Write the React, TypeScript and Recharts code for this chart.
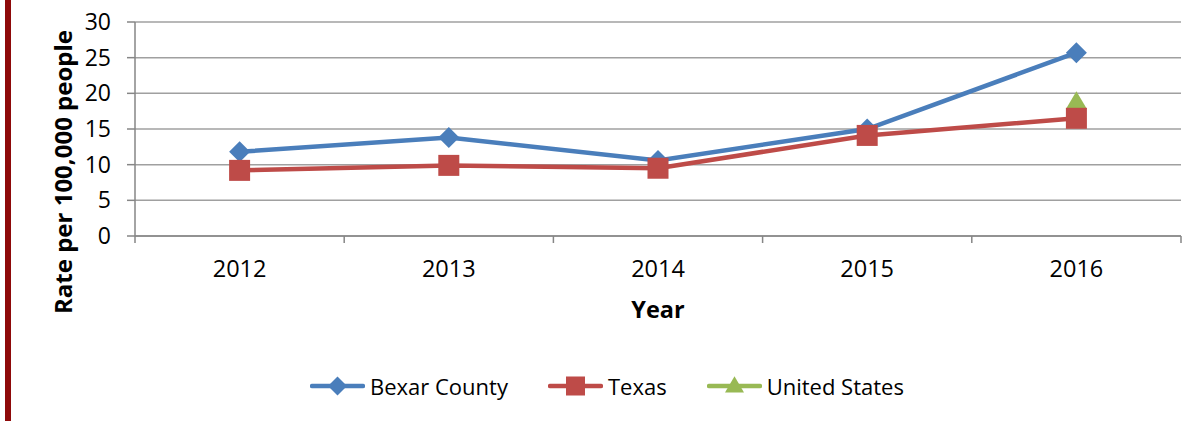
import React from 'react'
import { LineChart, Line, XAxis, YAxis, CartesianGrid } from 'recharts'

const years = ['2012', '2013', '2014', '2015', '2016']
const bexarCounty = [11.8, 13.8, 10.6, 15.0, 25.7]
const texas = [9.2, 9.9, 9.5, 14.1, 16.5]
const unitedStates = [null, null, null, null, 18.8]
const yTicks = [0, 5, 10, 15, 20, 25, 30]

const data = years.map((year, i) => ({
  year,
  bexar: bexarCounty[i],
  texas: texas[i],
  us: unitedStates[i],
}))

const FONT = '"Open Sans", sans-serif'
const BLUE = '#4A7EBB'
const RED = '#BE4B48'
const GREEN = '#98B954'
const AXIS = '#868686'
const GRID = '#A0A0A0'

const W = 1194
const H = 421
const M = { top: 22, right: 13, left: 0, bottom: 95 }
const Y_AXIS_W = 135
const BAND = (W - M.right - M.left - Y_AXIS_W) / years.length

function Diamond({ cx, cy, r = 10, color }: any) {
  if (cx == null || cy == null) return null
  return <path d={`M${cx},${cy - r}L${cx + r},${cy}L${cx},${cy + r}L${cx - r},${cy}Z`} fill={color} />
}

function Square({ cx, cy, r = 10, color }: any) {
  if (cx == null || cy == null) return null
  return <rect x={cx - r} y={cy - r} width={r * 2} height={r * 2} fill={color} />
}

function Triangle({ cx, cy, r = 10, color }: any) {
  if (cx == null || cy == null) return null
  const h = r * 1.7
  return (
    <path
      d={`M${cx},${cy - h * 0.6}L${cx + r},${cy + h * 0.4}L${cx - r},${cy + h * 0.4}Z`}
      fill={color}
    />
  )
}

function XTick({ x, y, payload, index }: any) {
  return (
    <g>
      {index === 0 && (
        <line x1={x - BAND / 2} x2={x - BAND / 2} y1={y} y2={y + 7} stroke={AXIS} strokeWidth={1.5} />
      )}
      <line x1={x + BAND / 2} x2={x + BAND / 2} y1={y} y2={y + 7} stroke={AXIS} strokeWidth={1.5} />
      <text x={x} y={y + 41} textAnchor="middle" fontFamily={FONT} fontSize={23.5} fill="#000">
        {payload.value}
      </text>
    </g>
  )
}

function YLabel({ viewBox }: any) {
  const cx = viewBox.x + 62
  const cy = 172
  return (
    <text
      x={cx}
      y={cy}
      transform={`rotate(-90 ${cx} ${cy})`}
      textAnchor="middle"
      dominantBaseline="central"
      fontFamily={FONT}
      fontWeight={700}
      fontSize={24}
      fill="#000"
    >
      Rate per 100,000 people
    </text>
  )
}

const legendItems = [
  { name: 'Bexar County', color: BLUE, Marker: Diamond },
  { name: 'Texas', color: RED, Marker: Square },
  { name: 'United States', color: GREEN, Marker: Triangle },
]

function ChartLegend() {
  return (
    <div
      style={{
        position: 'absolute',
        left: 310,
        top: 372,
        display: 'flex',
        alignItems: 'center',
        gap: 40,
        fontFamily: FONT,
        fontSize: 22,
        lineHeight: '28px',
        color: '#000',
      }}
    >
      {legendItems.map(({ name, color, Marker }) => (
        <div key={name} style={{ display: 'flex', alignItems: 'center' }}>
          <svg width={55} height={22} style={{ display: 'block' }}>
            <line x1={2} x2={53} y1={11} y2={11} stroke={color} strokeWidth={4.5} strokeLinecap="round" />
            <Marker cx={27.5} cy={11} r={9.5} color={color} />
          </svg>
          <span style={{ marginLeft: 5 }}>{name}</span>
        </div>
      ))}
    </div>
  )
}

export default function App() {
  return (
    <div style={{ position: 'relative', width: W, height: H, background: '#fff' }}>
      <style>{'body{margin:0}'}</style>
      <div style={{ position: 'absolute', left: 5, top: 0, width: 6, height: H, background: '#8E0A0A' }} />
      <LineChart width={W} height={H} data={data} margin={M}>
        <CartesianGrid vertical={false} stroke={GRID} strokeWidth={1.5} />
        <XAxis
          dataKey="year"
          height={90}
          padding={{ left: BAND / 2, right: BAND / 2 }}
          axisLine={{ stroke: AXIS, strokeWidth: 1.5 }}
          tickLine={false}
          tickSize={0}
          tickMargin={0}
          tick={<XTick />}
          interval={0}
          label={{
            value: 'Year',
            position: 'insideBottom',
            offset: 8,
            style: { fontFamily: FONT, fontWeight: 700, fontSize: 23.5, fill: '#000' },
          }}
        />
        <YAxis
          width={Y_AXIS_W}
          domain={[0, 30]}
          ticks={yTicks}
          interval={0}
          axisLine={{ stroke: AXIS, strokeWidth: 1.5 }}
          tickLine={{ stroke: AXIS, strokeWidth: 1.5 }}
          tickSize={8}
          tickMargin={16}
          tick={{ fontFamily: FONT, fontSize: 23, fill: '#000' }}
          label={<YLabel />}
        />
        <Line
          dataKey="us"
          stroke={GREEN}
          strokeWidth={4.5}
          isAnimationActive={false}
          dot={(p: any) => <Triangle key={`us-${p.index}`} cx={p.cx} cy={p.cy} r={10.5} color={GREEN} />}
          legendType="none"
        />
        <Line
          dataKey="bexar"
          stroke={BLUE}
          strokeWidth={4.5}
          isAnimationActive={false}
          dot={(p: any) => <Diamond key={`bx-${p.index}`} cx={p.cx} cy={p.cy} r={10.5} color={BLUE} />}
        />
        <Line
          dataKey="texas"
          stroke={RED}
          strokeWidth={4.5}
          isAnimationActive={false}
          dot={(p: any) => <Square key={`tx-${p.index}`} cx={p.cx} cy={p.cy} r={10.5} color={RED} />}
        />
      </LineChart>
      <ChartLegend />
    </div>
  )
}
